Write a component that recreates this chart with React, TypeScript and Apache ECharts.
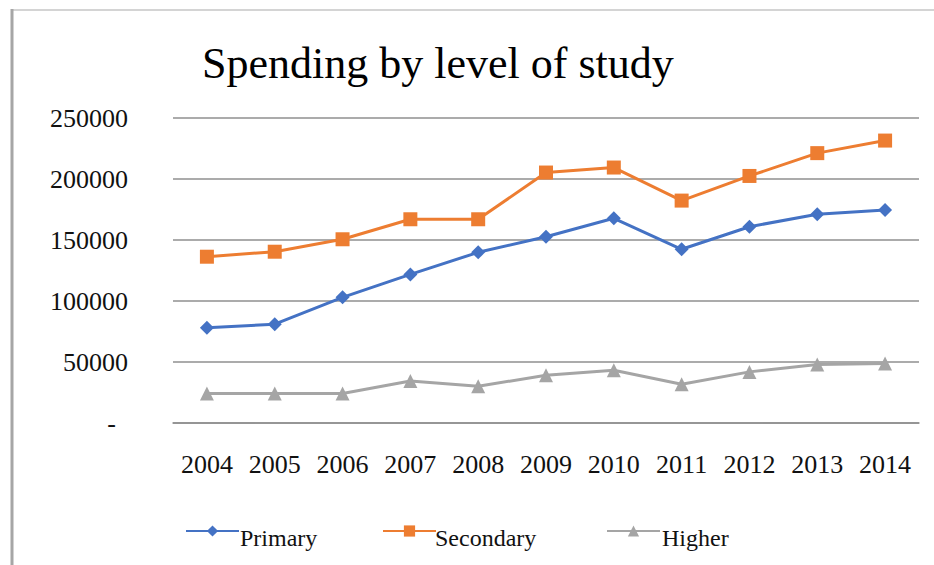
import React, { useEffect, useRef } from "react";
import * as echarts from "echarts";

const years = ["2004", "2005", "2006", "2007", "2008", "2009", "2010", "2011", "2012", "2013", "2014"];
const primary = [78000, 81000, 103000, 121800, 139900, 152700, 167800, 142400, 160900, 171100, 174600];
const secondary = [136300, 140400, 150600, 167000, 167000, 205300, 209400, 182300, 202500, 221200, 231500];
const higher = [24100, 24100, 24100, 34500, 30100, 39200, 43300, 31800, 41900, 47900, 48800];
const seriesNames = ["Primary", "Secondary", "Higher"];

const FONT = "Liberation Serif";
const legendIconX = [185, 382, 606];
const legendTextX = [240, 435, 662];

export default function App() {
  const ref = useRef<HTMLDivElement>(null);
  useEffect(() => {
    if (!ref.current) return;
    const chart = echarts.init(ref.current, undefined, { renderer: "svg" });
    const legends = seriesNames.map((n, i) => ({
      data: [n],
      left: legendIconX[i],
      top: 524,
      padding: 0,
      itemWidth: 53,
      itemHeight: 14,
      formatter: () => "",
    }));
    const legendTexts = seriesNames.map((n, i) => ({
      type: "text",
      x: legendTextX[i],
      y: 538,
      style: {
        text: n,
        font: "24px 'Liberation Serif', serif",
        fontFamily: FONT,
        fontSize: 24,
        fill: "#111",
        verticalAlign: "middle",
      },
    }));
    chart.setOption({
      animation: false,
      backgroundColor: "#fff",
      textStyle: { fontFamily: FONT },
      title: {
        text: "Spending by level of study",
        left: 197,
        top: 36,
        textStyle: { fontFamily: FONT, fontSize: 44, fontWeight: "normal", color: "#000" },
      },
      legend: legends,
      grid: { left: 173, right: 15, top: 118, bottom: 142 },
      xAxis: {
        type: "category",
        data: years,
        boundaryGap: true,
        axisLine: { show: true, lineStyle: { color: "#8f8f8f", width: 1.5 } },
        axisTick: { show: false },
        axisLabel: { fontFamily: FONT, fontSize: 26, color: "#111", margin: 28 },
      },
      yAxis: {
        type: "value",
        min: 0,
        max: 250000,
        interval: 50000,
        axisLine: { show: false },
        axisTick: { show: false },
        splitLine: { lineStyle: { color: "#8f8f8f", width: 1.5 } },
        axisLabel: {
          margin: 45,
          fontFamily: FONT,
          fontSize: 26,
          color: "#111",
          formatter: (v: number) => (v === 0 ? "{dash|-}" : String(v)),
          rich: { dash: { fontFamily: FONT, fontSize: 26, color: "#111", padding: [0, 12, 0, 0] } },
        },
      },
      series: [
        {
          name: seriesNames[0],
          type: "line",
          data: primary,
          symbol: "diamond",
          symbolSize: 14,
          lineStyle: { width: 3, color: "#4472C4" },
          itemStyle: { color: "#4472C4" },
        },
        {
          name: seriesNames[1],
          type: "line",
          data: secondary,
          symbol: "rect",
          symbolSize: 14,
          lineStyle: { width: 3, color: "#ED7D31" },
          itemStyle: { color: "#ED7D31" },
        },
        {
          name: seriesNames[2],
          type: "line",
          data: higher,
          symbol: "triangle",
          symbolSize: 14,
          lineStyle: { width: 3, color: "#A5A5A5" },
          itemStyle: { color: "#A5A5A5" },
        },
      ],
      graphic: [
        { type: "line", shape: { x1: 12, y1: 10, x2: 934, y2: 10 }, style: { stroke: "#d4d4d4", lineWidth: 2 } },
        { type: "line", shape: { x1: 12, y1: 9, x2: 12, y2: 565 }, style: { stroke: "#a6a6a6", lineWidth: 3 } },
        ...legendTexts,
      ],
    });
    return () => chart.dispose();
  }, []);
  return (
    <div
      ref={ref}
      style={{ position: "fixed", left: 0, top: 0, width: 934, height: 565 }}
    />
  );
}
